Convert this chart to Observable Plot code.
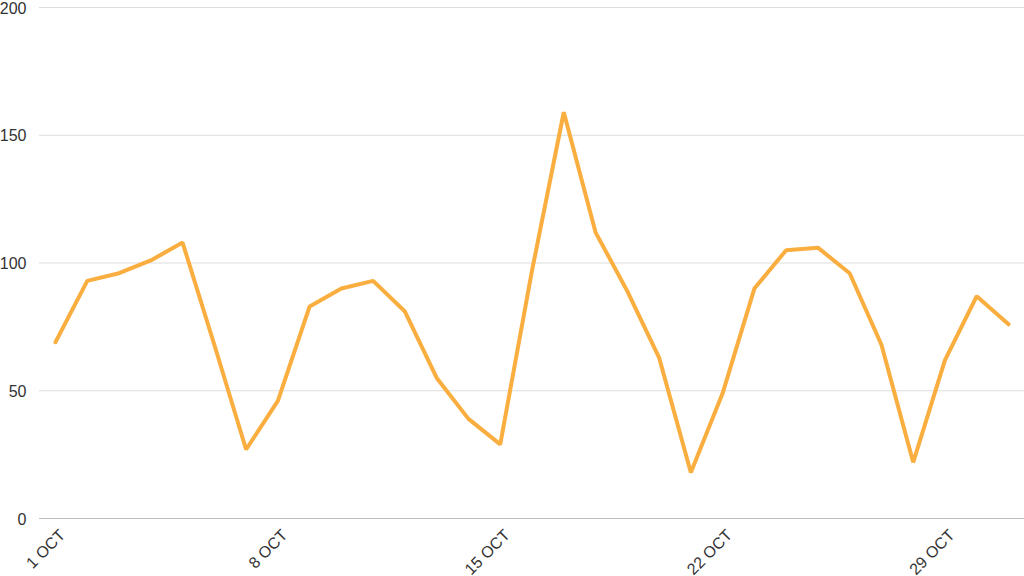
<!DOCTYPE html>
<html>
<head>
<meta charset="utf-8">
<script src="https://cdn.jsdelivr.net/npm/d3@7"></script>
<script src="https://cdn.jsdelivr.net/npm/@observablehq/plot@0.6"></script>
<style>
  html, body { margin: 0; padding: 0; background: #fff; }
  #chart svg { display: block; overflow: visible; }
</style>
</head>
<body>
<div id="chart"></div>
<script>
const days = [1,2,3,4,5,6,7,8,9,10,11,12,13,14,15,16,17,18,19,20,21,22,23,24,25,26,27,28,29,30,31];
const values = [69,93,96,101,108,68,27,46,83,90,93,81,55,39,29,97,159,112,89,63,18,49,90,105,106,96,68,22,62,87,76];
const xTicks = [1,8,15,22,29];
const monthLabel = "OCT";
const yTicks = [0,50,100,150,200];

const data = days.map((d, i) => ({day: d, value: values[i]}));

const chart = Plot.plot({
  width: 1024,
  height: 576,
  marginTop: 7,
  marginLeft: 39,
  marginRight: 0,
  marginBottom: 58,
  insetLeft: 16,
  insetRight: 16,
  style: {fontFamily: "'Liberation Sans', Arial, sans-serif", fontSize: "16px", color: "#333", background: "#fff"},
  x: {domain: [1, 31], ticks: xTicks, tickFormat: d => `${d} ${monthLabel}`, label: null},
  y: {domain: [0, 200], ticks: yTicks, label: null},
  marks: [
    Plot.gridY(yTicks.filter(t => t > 0), {stroke: "#dddddd", strokeOpacity: 1, strokeWidth: 1}),
    Plot.ruleY([0], {stroke: "#bdbdbd", strokeWidth: 1.2}),
    Plot.axisY({ticks: yTicks, tickSize: 0, tickPadding: 13, fontSize: 16, fill: "#333", dy: 1}),
    Plot.axisX({ticks: xTicks, tickSize: 0, tickPadding: 10, tickRotate: -45, fontSize: 16, fill: "#333", dx: 7, dy: 4, tickFormat: d => `${d} ${monthLabel}`}),
    Plot.line(data, {x: "day", y: "value", stroke: "#F9AE3F", strokeWidth: 4, strokeLinejoin: "miter", strokeLinecap: "round"})
  ]
});
document.getElementById("chart").appendChild(chart);
</script>
</body>
</html>
